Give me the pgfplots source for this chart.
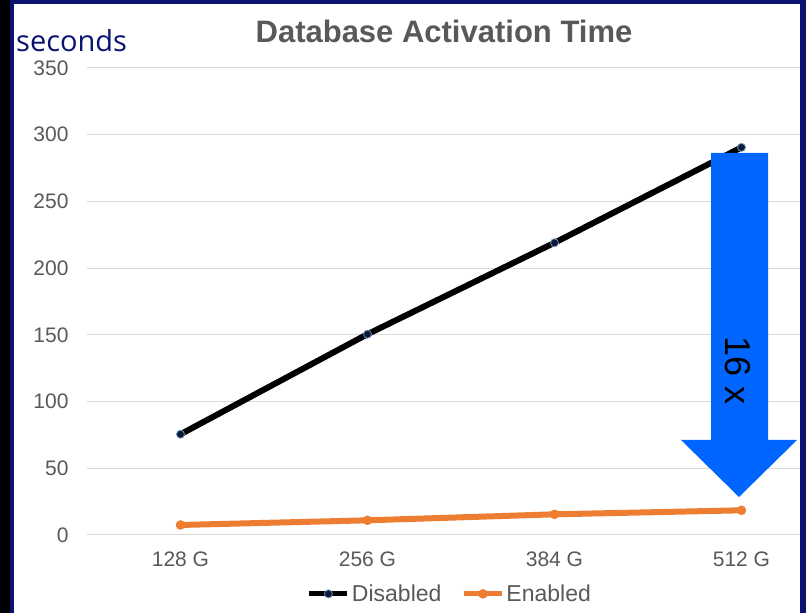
\documentclass[border=0pt]{standalone}
\usepackage{pgfplots}
\pgfplotsset{compat=1.18}
\usepackage{fontspec}
\setmainfont{Liberation Sans}
\newfontfamily\secfont{Open Sans}
\definecolor{tickgray}{HTML}{595959}
\definecolor{gridgray}{HTML}{D9D9D9}
\definecolor{navyb}{HTML}{0A1470}
\definecolor{orangeline}{HTML}{ED7D31}
\definecolor{arrowblue}{HTML}{0066FF}
\definecolor{markfill}{HTML}{0B1A3A}
\definecolor{markedge}{HTML}{6F8FB0}
\begin{document}
\begin{tikzpicture}[x=1pt,y=1pt]
\fill[white] (0,0) rectangle (806,613);
\fill[black] (0,0) rectangle (10,613);
\fill[navyb] (10,0) rectangle (14,613);
\fill[navyb] (10,609) rectangle (806,613);
\fill[navyb] (800,0) rectangle (806,613);
\begin{axis}[
  at={(87pt,78pt)}, anchor=south west,
  scale only axis, width=713pt, height=467pt,
  xmin=-0.5, xmax=3.313, ymin=0, ymax=350,
  xtick={0,1,2,3}, xticklabels={128 G,256 G,384 G,512 G},
  ytick={0,50,100,150,200,250,300,350},
  ymajorgrids, grid style={gridgray, line width=1pt},
  axis line style={draw=none},
  major tick length=0pt,
  /pgf/number format/assume math mode=true,
  tick label style={font=\fontsize{21}{25}\selectfont, text=tickgray},
  yticklabel style={xshift=-15pt},
  xticklabel style={yshift=-13pt},
  legend style={at={(axis description cs:0.509,-0.126)}, anchor=center,
    draw=none, fill=none, legend columns=2,
    font=\fontsize{23}{27}\selectfont, text=tickgray,
    /tikz/every even column/.append style={column sep=18pt}},
  legend image code/.code={
    \draw[#1, mark=none, line width=5pt] (0pt,0pt) -- (38pt,0pt);
    \path[#1] plot coordinates {(19pt,0pt)};
  },
]
\addplot[black, line width=6pt, mark=*, mark size=4pt,
  mark options={solid, line width=0.8pt, fill=markfill, draw=markedge}]
  coordinates {(0,75.5) (1,150.5) (2,219) (3,290.5)};
\addlegendentry{Disabled}
\addplot[orangeline, line width=6pt, mark=*, mark size=4.5pt,
  mark options={solid, line width=0.5pt, fill=orangeline, draw=orangeline}]
  coordinates {(0,7.5) (1,11) (2,15.5) (3,18.5)};
\addlegendentry{Enabled}
\end{axis}
\fill[arrowblue] (711,460) -- (768,460) -- (768,173) -- (797,173) -- (739,116) -- (681,173) -- (711,173) -- cycle;
\node[rotate=-90, font=\fontsize{36}{40}\selectfont] at (738,242) {16 x};
\node[font=\fontsize{31}{36}\selectfont\bfseries, text=tickgray] at (444,582) {Database Activation Time};
\node[anchor=base west, inner sep=0pt, font=\secfont\fontsize{29}{34}\selectfont, text=navyb] at (16,561) {seconds};
\end{tikzpicture}
\end{document}
